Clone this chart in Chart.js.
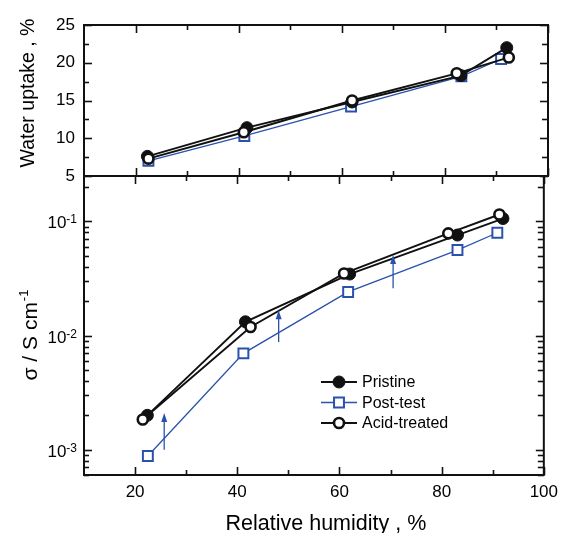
<!DOCTYPE html>
<html><head><meta charset="utf-8">
<script src="https://cdn.jsdelivr.net/npm/chart.js@4/dist/chart.umd.min.js"></script>
<style>
html,body{margin:0;padding:0;background:#fff;}
#wrap{position:relative;width:565px;height:533px;}
canvas{position:absolute;left:0;top:0;}
</style>
</head><body>
<div id="wrap"><canvas id="topC" width="565" height="533"></canvas><canvas id="botC" width="565" height="533"></canvas></div>
<script>
// ---------- data ----------
const seriesNames = ['Pristine', 'Post-test', 'Acid-treated'];

// top panel: water uptake (%) vs relative humidity (%)
const rhWaterPristine = [22.3, 41.6, 62.0, 83.1, 92.0];
const waterPristine   = [7.6, 11.4, 14.8, 18.3, 22.0];
const rhWaterPost     = [22.5, 41.1, 61.8, 83.2, 90.9];
const waterPost       = [7.0, 10.3, 14.2, 18.2, 20.5];
const rhWaterAcid     = [22.5, 41.0, 62.0, 82.3, 92.4];
const waterAcid       = [7.3, 10.8, 15.0, 18.6, 20.7];

// bottom panel: conductivity (S/cm) vs relative humidity (%)
const rhCondPristine = [22.4, 41.6, 62.0, 83.1, 92.0];
const condPristine   = [2.0e-3, 1.32e-2, 3.46e-2, 7.6e-2, 0.106];
const rhCondPost     = [22.5, 41.2, 61.7, 83.1, 90.9];
const condPost       = [8.8e-4, 6.98e-3, 2.41e-2, 5.61e-2, 7.96e-2];
const rhCondAcid     = [21.5, 42.6, 60.9, 81.3, 91.3];
const condAcid       = [1.84e-3, 1.19e-2, 3.5e-2, 7.86e-2, 0.115];

// arrows (post-test -> recovered)
const arrowRH   = [25.7, 48.1, 70.5];
const arrowFrom = [1.0e-3, 8.8e-3, 2.6e-2];
const arrowTo   = [2.1e-3, 1.67e-2, 5.07e-2];

// ticks and titles
const xTickValues      = [20, 40, 60, 80, 100];
const xMinorTickValues = [30, 50, 70, 90];
const waterTickValues  = [5, 10, 15, 20, 25];
const waterMinorTicks  = [7.5, 12.5, 17.5, 22.5];
const condTickValues   = [1e-3, 1e-2, 1e-1];
const condTickBase     = ['10', '10', '10'];
const condTickExp      = ['-3', '-2', '-1'];
const condMinorTicks   = [6e-4, 7e-4, 8e-4, 9e-4, 2e-3, 3e-3, 4e-3, 5e-3, 6e-3, 7e-3, 8e-3, 9e-3,
                          2e-2, 3e-2, 4e-2, 5e-2, 6e-2, 7e-2, 8e-2, 9e-2, 2e-1];
const xTitle      = 'Relative humidity , %';
const waterTitle  = 'Water uptake , %';
const condTitle   = '\u03C3 / S cm';
const condTitleSup = '-1';

// ---------- styling ----------
const FONT = "'Liberation Sans', Arial, Helvetica, sans-serif";
Chart.defaults.font.family = FONT;
Chart.defaults.color = '#000';
const BLUE = '#2a52ac';
const INK = '#111';

const pts = (xs, ys) => xs.map((x, i) => ({x, y: ys[i]}));

function makeDatasets(rP, yP, rS, yS, rA, yA) {
  return [
    {label: seriesNames[0], data: pts(rP, yP), showLine: true, borderColor: INK, borderWidth: 1.9,
     pointStyle: 'circle', pointRadius: 6, pointBackgroundColor: INK, pointBorderColor: INK, pointBorderWidth: 1, order: 1},
    {label: seriesNames[1], data: pts(rS, yS), showLine: true, borderColor: BLUE, borderWidth: 1.3,
     pointStyle: 'rect', pointRadius: 7, pointBackgroundColor: '#fff', pointBorderColor: BLUE, pointBorderWidth: 2, order: 2},
    {label: seriesNames[2], data: pts(rA, yA), showLine: true, borderColor: INK, borderWidth: 1.9,
     pointStyle: 'circle', pointRadius: 5, pointBackgroundColor: '#fff', pointBorderColor: INK, pointBorderWidth: 2.6, order: 0}
  ];
}

function line(ctx, x1, y1, x2, y2) { ctx.beginPath(); ctx.moveTo(x1, y1); ctx.lineTo(x2, y2); ctx.stroke(); }

function frameTicksPlugin(cfg) {
  return {
    id: 'frameTicks',
    afterDraw(chart) {
      const {ctx, chartArea: a, scales: {x, y}} = chart;
      ctx.save();
      ctx.strokeStyle = INK;
      ctx.lineWidth = 1.6;
      const M = 8, m = 5;
      xTickValues.concat(xMinorTickValues).forEach(v => {
        const L = xTickValues.includes(v) ? M : m;
        const px = Math.round(x.getPixelForValue(v)) + 0.5;
        line(ctx, px, a.top, px, a.top + L);
        line(ctx, px, a.bottom, px, a.bottom - L);
      });
      cfg.yMajor.concat(cfg.yMinor).forEach(v => {
        const L = cfg.yMajor.includes(v) ? M : m;
        const py = Math.round(y.getPixelForValue(v)) + 0.5;
        line(ctx, a.left, py, a.left + L, py);
        line(ctx, a.right, py, a.right - (cfg.yMajor.includes(v) ? M : 6), py);
      });
      ctx.lineWidth = 2;
      ctx.strokeRect(a.left, a.top, a.right - a.left, a.bottom - a.top);
      ctx.restore();
    }
  };
}

// rotated y-axis title (optionally with superscript), centred at (cx, cy)
function yTitlePlugin(text, sup, size, cx, cy) {
  return {
    id: 'yTitle',
    afterDraw(chart) {
      const ctx = chart.ctx;
      ctx.save();
      ctx.fillStyle = '#000';
      ctx.translate(cx, cy);
      ctx.rotate(-Math.PI / 2);
      ctx.font = size + 'px ' + FONT;
      const w1 = ctx.measureText(text).width;
      let w2 = 0;
      const supSize = Math.round(size * 0.62);
      if (sup) { ctx.font = supSize + 'px ' + FONT; w2 = ctx.measureText(sup).width + 1; }
      const x0 = -(w1 + w2) / 2;
      ctx.textBaseline = 'alphabetic'; ctx.textAlign = 'left';
      ctx.font = size + 'px ' + FONT;
      ctx.fillText(text, x0, size * 0.36);
      if (sup) { ctx.font = supSize + 'px ' + FONT; ctx.fillText(sup, x0 + w1 + 1, size * 0.36 - size * 0.42); }
      ctx.restore();
    }
  };
}

const xTitlePlugin = {
  id: 'xTitle',
  afterDraw(chart) {
    const ctx = chart.ctx, a = chart.chartArea;
    ctx.save();
    ctx.fillStyle = '#000';
    ctx.font = '21.5px ' + FONT;
    ctx.textAlign = 'center'; ctx.textBaseline = 'alphabetic';
    ctx.fillText(xTitle, (a.left + a.right) / 2 + 12, a.bottom + 55);
    ctx.restore();
  }
};

const logLabelPlugin = {
  id: 'logLabels',
  afterDraw(chart) {
    const ctx = chart.ctx, y = chart.scales.y, a = chart.chartArea;
    ctx.save();
    ctx.fillStyle = '#000';
    ctx.textBaseline = 'alphabetic'; ctx.textAlign = 'left';
    condTickValues.forEach((v, i) => {
      const py = y.getPixelForValue(v);
      ctx.font = '12px ' + FONT;
      const ws = ctx.measureText(condTickExp[i]).width;
      ctx.font = '17px ' + FONT;
      const wb = ctx.measureText(condTickBase[i]).width;
      const right = a.left - 7;
      ctx.fillText(condTickBase[i], right - ws - wb, py + 7);
      ctx.font = '12px ' + FONT;
      ctx.fillText(condTickExp[i], right - ws, py + 2);
    });
    ctx.restore();
  }
};

const arrowPlugin = {
  id: 'arrows',
  afterDatasetsDraw(chart) {
    const {ctx, scales: {x, y}} = chart;
    ctx.save();
    ctx.strokeStyle = BLUE; ctx.fillStyle = BLUE; ctx.lineWidth = 1.3;
    arrowRH.forEach((r, i) => {
      const px = x.getPixelForValue(r);
      const y1 = y.getPixelForValue(arrowFrom[i]);
      const y2 = y.getPixelForValue(arrowTo[i]);
      line(ctx, px, y1, px, y2 + 6);
      ctx.beginPath();
      ctx.moveTo(px, y2); ctx.lineTo(px - 3, y2 + 9); ctx.lineTo(px + 3, y2 + 9); ctx.closePath(); ctx.fill();
    });
    ctx.restore();
  }
};

const legendPlugin = {
  id: 'customLegend',
  afterDraw(chart) {
    const {ctx, chartArea: a} = chart;
    const ds = chart.data.datasets;
    const x0 = a.left + 237, x1 = a.left + 273, xt = a.left + 278;
    const y0 = a.top + 206, dy = 20.5;
    ctx.save();
    ds.forEach((d, i) => {
      const yy = y0 + i * dy;
      ctx.strokeStyle = d.borderColor; ctx.lineWidth = d.borderWidth;
      line(ctx, x0, yy, x1, yy);
      ctx.fillStyle = d.pointBackgroundColor; ctx.strokeStyle = d.pointBorderColor; ctx.lineWidth = d.pointBorderWidth;
      Chart.helpers.drawPoint(ctx, {pointStyle: d.pointStyle, radius: d.pointRadius, borderWidth: d.pointBorderWidth, rotation: 0}, (x0 + x1) / 2, yy);
      ctx.fillStyle = '#000';
      ctx.font = '16px ' + FONT;
      ctx.textBaseline = 'middle'; ctx.textAlign = 'left';
      ctx.fillText(d.label, xt, yy + 1);
    });
    ctx.restore();
  }
};

// ---------- top chart ----------
new Chart(document.getElementById('topC'), {
  type: 'scatter',
  data: {datasets: makeDatasets(rhWaterPristine, waterPristine, rhWaterPost, waterPost, rhWaterAcid, waterAcid)},
  options: {
    responsive: false, animation: false, events: [],
    layout: {padding: {left: 0, top: 25, right: 17, bottom: 357}},
    plugins: {legend: {display: false}, tooltip: {enabled: false}},
    elements: {line: {tension: 0}},
    scales: {
      x: {type: 'linear', min: 10, max: 100, display: false},
      y: {type: 'linear', min: 5, max: 25,
          afterBuildTicks: ax => { ax.ticks = waterTickValues.map(v => ({value: v})); },
          afterFit: s => { s.width = 84; },
          grid: {display: false, drawTicks: false}, border: {display: false},
          ticks: {font: {size: 17}, padding: 9, color: '#000', autoSkip: false},
          title: {display: false, text: waterTitle}}
    }
  },
  plugins: [frameTicksPlugin({yMajor: waterTickValues, yMinor: waterMinorTicks}), yTitlePlugin(waterTitle, '', 19.5, 27, 93)]
});

// ---------- bottom chart ----------
new Chart(document.getElementById('botC'), {
  type: 'scatter',
  data: {datasets: makeDatasets(rhCondPristine, condPristine, rhCondPost, condPost, rhCondAcid, condAcid)},
  options: {
    responsive: false, animation: false, events: [],
    layout: {padding: {left: 0, top: 176, right: 17, bottom: 0}},
    plugins: {legend: {display: false}, tooltip: {enabled: false}},
    elements: {line: {tension: 0}},
    scales: {
      x: {type: 'linear', min: 10, max: 100,
          afterBuildTicks: ax => { ax.ticks = xTickValues.map(v => ({value: v})); },
          afterFit: s => { s.height = 58; },
          grid: {display: false, drawTicks: false}, border: {display: false},
          ticks: {font: {size: 17}, padding: 7, color: '#000', autoSkip: false, maxRotation: 0},
          title: {display: false, text: xTitle}},
      y: {type: 'logarithmic', min: 6e-4, max: 0.25,
          afterBuildTicks: ax => { ax.ticks = condTickValues.map(v => ({value: v})); },
          afterFit: s => { s.width = 84; },
          grid: {display: false, drawTicks: false}, border: {display: false},
          ticks: {display: false},
          title: {display: false, text: condTitle + condTitleSup}}
    }
  },
  plugins: [frameTicksPlugin({yMajor: condTickValues, yMinor: condMinorTicks}), arrowPlugin, legendPlugin,
            logLabelPlugin, xTitlePlugin, yTitlePlugin(condTitle, condTitleSup, 21, 29, 335)]
});
</script>
</body></html>
